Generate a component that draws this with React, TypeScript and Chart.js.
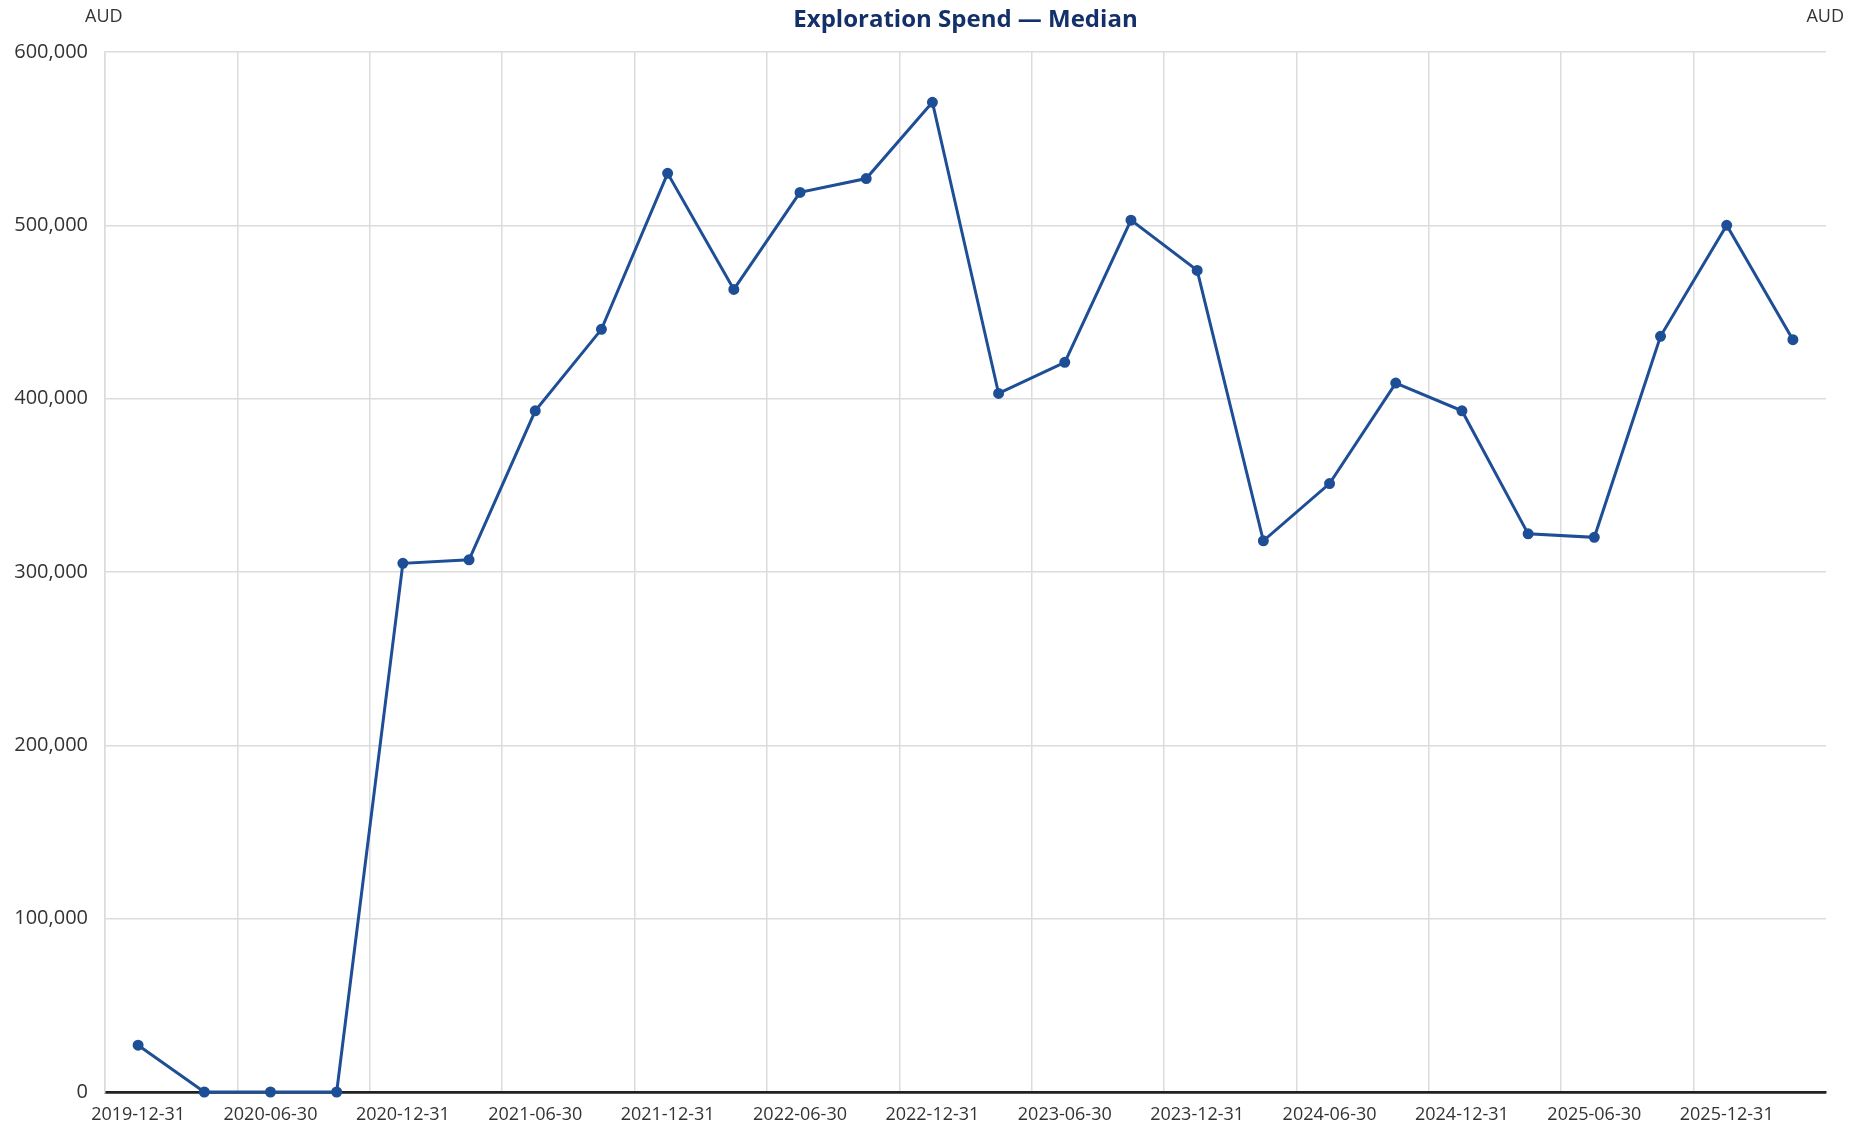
import React, { useEffect, useRef } from "react";
import { Chart, registerables } from "chart.js";

Chart.register(...registerables);

const TITLE = "Exploration Spend — Median";
const UNIT = "AUD";

const periods = [
  "2019-12-31", "2020-03-31", "2020-06-30", "2020-09-30",
  "2020-12-31", "2021-03-31", "2021-06-30", "2021-09-30",
  "2021-12-31", "2022-03-31", "2022-06-30", "2022-09-30",
  "2022-12-31", "2023-03-31", "2023-06-30", "2023-09-30",
  "2023-12-31", "2024-03-31", "2024-06-30", "2024-09-30",
  "2024-12-31", "2025-03-31", "2025-06-30", "2025-09-30",
  "2025-12-31", "2026-03-31",
];

const medianSpend = [
  27000, 0, 0, 0,
  305000, 307000, 393000, 440000,
  530000, 463000, 519000, 527000,
  571000, 403000, 421000, 503000,
  474000, 318000, 351000, 409000,
  393000, 322000, 320000, 436000,
  500000, 434000,
];

const yTicks = [0, 100000, 200000, 300000, 400000, 500000, 600000];

const W = 1858;
const H = 1127;
const FONT = "'Open Sans', 'Noto Sans', sans-serif";

const overlayPlugin = {
  id: "overlayText",
  afterDraw(chart: any) {
    const ctx = chart.ctx;
    const a = chart.chartArea;
    ctx.save();
    ctx.fillStyle = "#14306b";
    ctx.font = `bold 24px ${FONT}`;
    ctx.textAlign = "center";
    ctx.textBaseline = "middle";
    ctx.fillText(TITLE, (a.left + a.right) / 2, 20);
    ctx.fillStyle = "#333";
    ctx.font = `18px ${FONT}`;
    ctx.textAlign = "left";
    ctx.fillText(UNIT, 85, 17);
    ctx.textAlign = "right";
    ctx.fillText(UNIT, 1844, 17);
    ctx.restore();
  },
};

export default function App() {
  const ref = useRef<HTMLCanvasElement>(null);
  useEffect(() => {
    if (!ref.current) return;
    const chart = new Chart(ref.current, {
      type: "line",
      data: {
        labels: periods,
        datasets: [
          {
            label: "Median",
            data: medianSpend,
            borderColor: "#1d4e96",
            backgroundColor: "#1d4e96",
            borderWidth: 3,
            pointRadius: 4,
            pointHoverRadius: 4,
            tension: 0,
            clip: false as any,
          },
        ],
      },
      options: {
        responsive: false,
        animation: false,
        layout: { padding: { top: 52, right: 32, left: 0, bottom: 0 } },
        plugins: {
          legend: { display: false },
          title: { display: false },
          tooltip: { enabled: false },
        },
        scales: {
          x: {
            type: "category",
            offset: true,
            grid: {
              offset: true,
              drawTicks: false,
              lineWidth: 1.5,
              color: (c: any) => (c.index % 2 === 0 ? "#dcdcdc" : "rgba(0,0,0,0)"),
            },
            border: { display: true, color: "#222", width: 2.5 },
            ticks: {
              autoSkip: false,
              maxRotation: 0,
              minRotation: 0,
              padding: 12,
              color: "#333",
              font: { family: FONT, size: 18 },
              callback: (_v: any, i: number) => (i % 2 === 0 ? periods[i] : ""),
            },
            afterFit: (s: any) => {
              s.height = H - 1092;
            },
          },
          y: {
            min: 0,
            max: 600000,
            afterBuildTicks: (s: any) => {
              s.ticks = yTicks.map((v) => ({ value: v }));
            },
            grid: {
              drawTicks: false,
              lineWidth: (c: any) => (c.tick && c.tick.value === 0 ? 2.5 : 1.5),
              color: (c: any) => (c.tick && c.tick.value === 0 ? "#222" : "#dcdcdc"),
            },
            border: { display: true, color: "#dcdcdc", width: 1.5 },
            ticks: {
              padding: 17,
              color: "#333",
              font: { family: FONT, size: 20 },
              callback: (v: any) => Number(v).toLocaleString("en-US"),
            },
            afterFit: (s: any) => {
              s.width = 105;
            },
          },
        },
      },
      plugins: [overlayPlugin],
    });
    return () => chart.destroy();
  }, []);
  return (
    <div style={{ position: "fixed", left: 0, top: 0, width: W, height: H, background: "#fff" }}>
      <canvas ref={ref} width={W} height={H} style={{ display: "block" }} />
    </div>
  );
}
